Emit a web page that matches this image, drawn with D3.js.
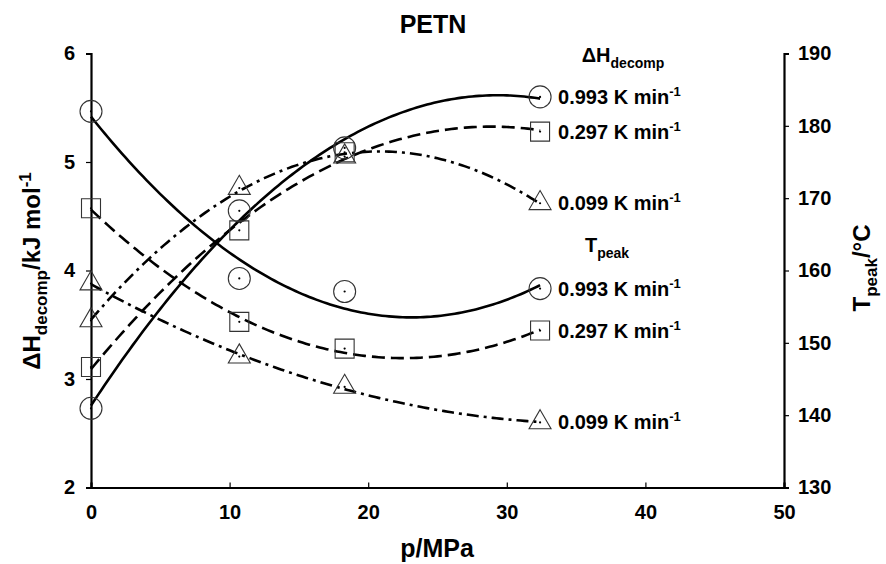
<!DOCTYPE html>
<html>
<head>
<meta charset="utf-8">
<script src="https://cdn.jsdelivr.net/npm/d3@7"></script>
<style>
  body { margin: 0; background: #fff; }
  text { font-family: "Liberation Sans", Arial, sans-serif; font-weight: bold; fill: #000; }
</style>
</head>
<body>
<div id="chart"></div>
<script>
// pressure (MPa) of the four runs
const pressure = [0, 10.7, 18.3, 32.4];
const rates = ["0.993", "0.297", "0.099"];

// decomposition enthalpy, kJ/mol (left axis)
const dH_0993 = [2.73, 4.55, 5.13, 5.60];
const dH_0297 = [3.11, 4.37, 5.09, 5.28];
const dH_0099 = [3.54, 4.76, 5.05, 4.62];

// peak temperature, degC (right axis)
const T_0993 = [182.0, 158.9, 157.1, 157.5];
const T_0297 = [168.6, 152.9, 149.2, 151.7];
const T_0099 = [158.2, 148.1, 143.9, 139.0];

const xTicks = [0, 10, 20, 30, 40, 50];
const leftTicks = [2, 3, 4, 5, 6];
const rightTicks = [130, 140, 150, 160, 170, 180, 190];

const w = 886, h = 564;

const x = d3.scaleLinear().domain([0, 50]).range([91, 784]);
const yL = d3.scaleLinear().domain([2, 6]).range([487.5, 53.5]);
const yR = d3.scaleLinear().domain([130, 190]).range([487.5, 53.5]);

const svg = d3.select("#chart").append("svg")
  .attr("width", w).attr("height", h);

// least squares 2nd order fit, like a spreadsheet trendline
function quadFit(xs, ys) {
  const S = [0, 0, 0, 0, 0], T = [0, 0, 0];
  xs.forEach((xv, i) => {
    for (let k = 0; k < 5; k++) S[k] += Math.pow(xv, k);
    for (let k = 0; k < 3; k++) T[k] += Math.pow(xv, k) * ys[i];
  });
  const A = [[S[0], S[1], S[2], T[0]], [S[1], S[2], S[3], T[1]], [S[2], S[3], S[4], T[2]]];
  for (let c = 0; c < 3; c++) {
    for (let r = c + 1; r < 3; r++) {
      const f = A[r][c] / A[c][c];
      for (let k = c; k < 4; k++) A[r][k] -= f * A[c][k];
    }
  }
  const coef = [0, 0, 0];
  for (let r = 2; r >= 0; r--) {
    let s = A[r][3];
    for (let k = r + 1; k < 3; k++) s -= A[r][k] * coef[k];
    coef[r] = s / A[r][r];
  }
  return p => coef[0] + coef[1] * p + coef[2] * p * p;
}

const series = [
  { vals: dH_0993, y: yL, shape: "circle", dash: null, label: rates[0], group: "dH" },
  { vals: dH_0297, y: yL, shape: "square", dash: "13,6", label: rates[1], group: "dH" },
  { vals: dH_0099, y: yL, shape: "triangle", dash: "12,5,3,5", label: rates[2], group: "dH" },
  { vals: T_0993, y: yR, shape: "circle", dash: null, label: rates[0], group: "T" },
  { vals: T_0297, y: yR, shape: "square", dash: "13,6", label: rates[1], group: "T" },
  { vals: T_0099, y: yR, shape: "triangle", dash: "12,5,3,5", label: rates[2], group: "T" }
];

const shapes = {
  circle: d3.symbol().type(d3.symbolCircle).size(Math.PI * 11 * 11),
  square: d3.symbol().type(d3.symbolSquare).size(19 * 19),
  triangle: d3.symbol().type(d3.symbolTriangle).size(22 * 22 * Math.sqrt(3) / 4)
};

// axes
const xAxis = d3.axisBottom(x).tickValues(xTicks).tickSize(-5).tickPadding(17);
const lAxis = d3.axisLeft(yL).tickValues(leftTicks).tickFormat(d3.format("d")).tickSize(5).tickPadding(11);
const rAxis = d3.axisRight(yR).tickValues(rightTicks).tickSize(5).tickPadding(9);

function styleAxis(g) {
  g.select(".domain").attr("stroke", "#000").attr("stroke-width", 2.2);
  g.selectAll(".tick line").attr("stroke", "#000").attr("stroke-width", 1.2);
  g.selectAll(".tick text").attr("font-size", 20)
    .attr("font-family", "Liberation Sans, Arial, sans-serif").attr("font-weight", "bold");
}

svg.append("g").attr("transform", `translate(0,${yL(2)})`).call(xAxis).call(styleAxis);
svg.append("g").attr("transform", `translate(${x(0)},0)`).call(lAxis).call(styleAxis);
svg.append("g").attr("transform", `translate(${x(50)},0)`).call(rAxis).call(styleAxis);

// fitted curves
series.forEach(s => {
  const f = quadFit(pressure, s.vals);
  const pMax = d3.max(pressure);
  const pts = d3.range(0, pMax, 0.25).concat([pMax]);
  svg.append("path")
    .datum(pts)
    .attr("fill", "none")
    .attr("stroke", "#000")
    .attr("stroke-width", 2.6)
    .attr("stroke-dasharray", s.dash)
    .attr("d", d3.line().x(p => x(p)).y(p => s.y(f(p))));
});

// markers
series.forEach(s => {
  const g = svg.append("g");
  g.selectAll("path")
    .data(s.vals)
    .enter()
    .append("path")
    .attr("transform", (d, i) => `translate(${x(pressure[i])},${s.y(d)})`)
    .attr("d", shapes[s.shape]())
    .attr("fill", "none")
    .attr("stroke", "#333")
    .attr("stroke-width", 1.1);
  g.selectAll("circle")
    .data(s.vals)
    .enter()
    .append("circle")
    .attr("cx", (d, i) => x(pressure[i]))
    .attr("cy", d => s.y(d))
    .attr("r", 1.1)
    .attr("fill", "#000");
});

// labels next to last points
series.forEach(s => {
  const last = s.vals[s.vals.length - 1];
  const t = svg.append("text")
    .attr("x", x(d3.max(pressure)) + 18)
    .attr("y", s.y(last) + 7)
    .attr("font-size", 20);
  t.append("tspan").text(s.label + " K min");
  t.append("tspan").attr("dy", -8).attr("font-size", 13).text("-1");
});

const hdr1 = svg.append("text").attr("x", 623).attr("y", 62)
  .attr("text-anchor", "middle").attr("font-size", 20);
hdr1.append("tspan").text("\u0394H");
hdr1.append("tspan").attr("dy", 6).attr("font-size", 14).text("decomp");

const hdr2 = svg.append("text").attr("x", 607).attr("y", 252)
  .attr("text-anchor", "middle").attr("font-size", 20);
hdr2.append("tspan").text("T");
hdr2.append("tspan").attr("dy", 6).attr("font-size", 14).text("peak");

// titles
svg.append("text").attr("x", 433).attr("y", 33)
  .attr("text-anchor", "middle").attr("font-size", 25).text("PETN");

svg.append("text").attr("x", 437).attr("y", 557)
  .attr("text-anchor", "middle").attr("font-size", 25).text("p/MPa");

const yl = svg.append("text")
  .attr("transform", "translate(40,271) rotate(-90)")
  .attr("text-anchor", "middle").attr("font-size", 24);
yl.append("tspan").text("\u0394H");
yl.append("tspan").attr("dy", 7).attr("font-size", 17).text("decomp");
yl.append("tspan").attr("dy", -7).text("/kJ mol");
yl.append("tspan").attr("dy", -9).attr("font-size", 17).text("-1");

const yr = svg.append("text")
  .attr("transform", "translate(870,268) rotate(-90)")
  .attr("text-anchor", "middle").attr("font-size", 24);
yr.append("tspan").text("T");
yr.append("tspan").attr("dy", 7).attr("font-size", 17).text("peak");
yr.append("tspan").attr("dy", -7).text("/\u00B0C");
</script>
</body>
</html>
